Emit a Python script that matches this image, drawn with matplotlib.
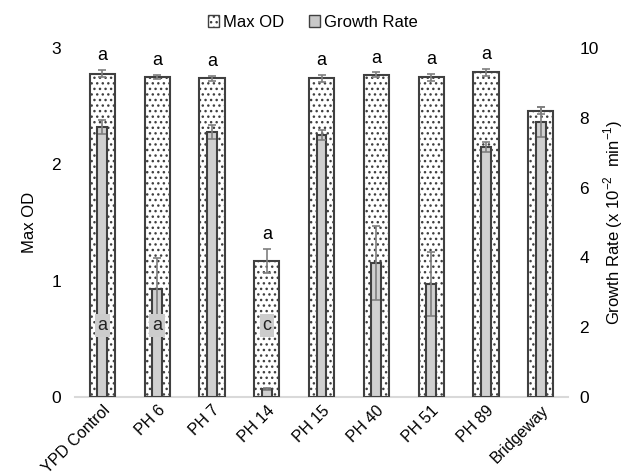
import matplotlib
matplotlib.use("Agg")
import matplotlib.pyplot as plt
import numpy as np
from matplotlib.patches import Patch

plt.rcParams['font.family'] = ['Liberation Sans', 'DejaVu Sans']
plt.rcParams['mathtext.fontset'] = 'custom'
plt.rcParams['mathtext.rm'] = 'Liberation Sans'
plt.rcParams['hatch.linewidth'] = 1.0
plt.rcParams['hatch.color'] = '#333333'

categories = ["YPD Control", "PH 6", "PH 7", "PH 14", "PH 15", "PH 40", "PH 51", "PH 89", "Bridgeway"]
max_od = [2.78, 2.75, 2.74, 1.17, 2.74, 2.77, 2.75, 2.79, 2.46]
max_od_err = [0.03, 0.02, 0.02, 0.10, 0.03, 0.02, 0.03, 0.03, 0.03]
growth = [7.74, 3.09, 7.60, 0.23, 7.50, 3.84, 3.24, 7.16, 7.88]
growth_err = [0.20, 0.90, 0.20, 0.03, 0.15, 1.05, 0.93, 0.15, 0.43]
od_letters = ["a", "a", "a", "a", "a", "a", "a", "a", ""]
growth_letters = ["a", "a", "c"]
growth_letter_idx = [0, 1, 3]

fig = plt.figure(figsize=(6.25, 4.75), dpi=100)
ax = fig.add_axes([0.12, 0.164, 0.789, 0.735])
ax2 = ax.twinx()

x = np.arange(len(categories))
ax.bar(x, max_od, width=0.46, color='white', edgecolor='#404040', linewidth=1.5,
       hatch='...', zorder=2)
ax.errorbar(x, max_od, yerr=max_od_err, fmt='none', ecolor='#7f7f7f', elinewidth=1.2,
            capsize=3, capthick=1.2, zorder=3)
for xi, v, e, t in zip(x, max_od, max_od_err, od_letters):
    if t:
        ax.text(xi, v + e + 0.05, t, ha='center', va='bottom', fontsize=13, color='black')

ax2.bar(x, growth, width=0.18, color='#d0d0d0', edgecolor='#404040', linewidth=1.5, zorder=2)
ax2.errorbar(x, growth, yerr=growth_err, fmt='none', ecolor='#7f7f7f', elinewidth=1.2,
             capsize=3, capthick=1.2, zorder=3)
for i, t in zip(growth_letter_idx, growth_letters):
    ax2.text(x[i], 2.05, t, ha='center', va='center', fontsize=13, color='#222222',
             bbox=dict(boxstyle='square,pad=0.15', facecolor='#cccccc', edgecolor='none'), zorder=4)

ax.set_xlim(-0.5, len(categories) - 0.5)
ax.set_ylim(0, 3)
ax2.set_ylim(0, 10)
ax.set_yticks([0, 1, 2, 3])
ax2.set_yticks([0, 2, 4, 6, 8, 10])
ax.set_xticks(x)
ax.set_xticklabels(categories, rotation=45, ha='right', rotation_mode='anchor', fontsize=11.5)
for a in (ax, ax2):
    for s in ['top', 'right', 'left', 'bottom']:
        a.spines[s].set_visible(False)
    a.tick_params(axis='both', length=0, labelsize=12.5)
ax.axhline(0, color='#d9d9d9', linewidth=1.5, zorder=1, clip_on=False)
ax.tick_params(axis='y', pad=10)
ax2.tick_params(axis='y', pad=8)
ax.tick_params(axis='x', labelsize=11.5, pad=4)

ax.set_ylabel("Max OD", fontsize=12, labelpad=10)
ax2.set_ylabel("Growth Rate (x 10$^{-2}$  min$^{-1}$)", fontsize=12, labelpad=2)

handles = [Patch(facecolor='white', edgecolor='#404040', hatch='...', linewidth=1.0, label='Max OD'),
           Patch(facecolor='#c8c8c8', edgecolor='#404040', linewidth=1.0, label='Growth Rate')]
fig.legend(handles=handles, loc='upper center', bbox_to_anchor=(0.5, 1.0), ncol=2, frameon=False,
           fontsize=12, handlelength=0.7, handleheight=0.7, handletextpad=0.2, columnspacing=1.5)

fig.savefig("out.png", dpi=100)
